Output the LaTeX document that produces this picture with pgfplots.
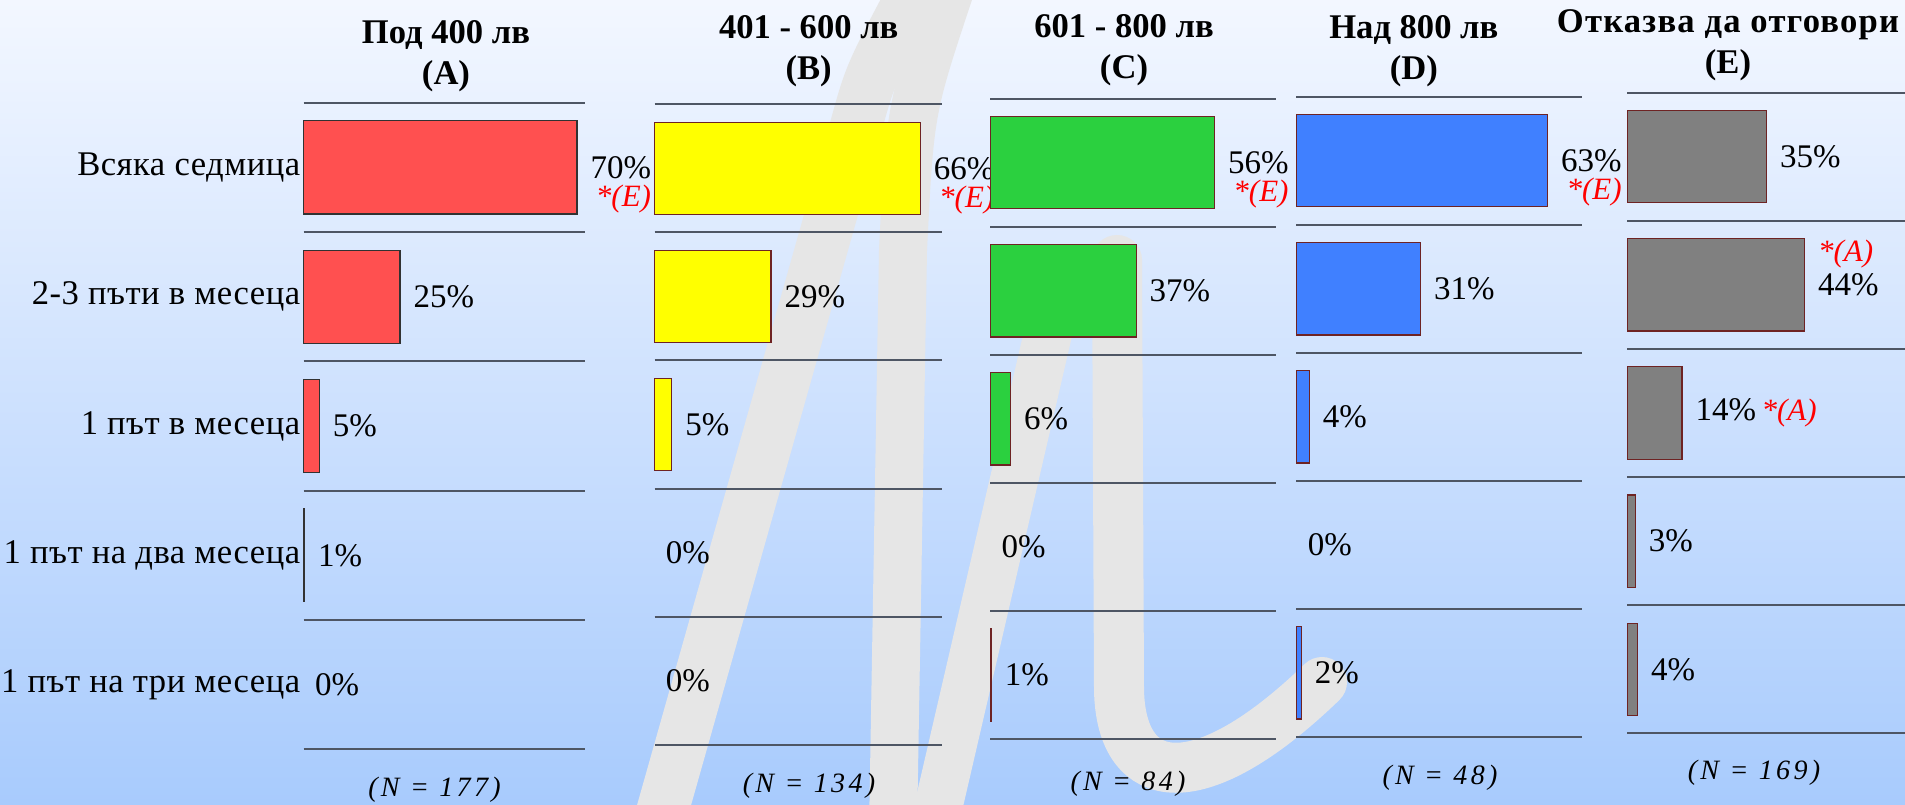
\documentclass[border=0pt]{standalone}
\usepackage{fontspec}
\setmainfont{Liberation Serif}
\usepackage{pgfplots}
\pgfplotsset{compat=1.18}

\definecolor{bgtop}{RGB}{243,247,255}
\definecolor{bgbot}{RGB}{168,203,253}
\definecolor{wm}{RGB}{230,230,230}
\definecolor{gridc}{RGB}{78,86,100}
\definecolor{edgec}{RGB}{110,35,35}
\definecolor{cA}{RGB}{255,80,80}
\definecolor{cB}{RGB}{255,255,0}
\definecolor{cC}{RGB}{43,208,63}
\definecolor{cD}{RGB}{64,128,255}
\definecolor{cE}{RGB}{128,128,128}

% red significance marks
\newcommand\sig[1]{{\color{red}\itshape\fontsize{15.5}{15.5}\selectfont *(#1)}}
\newcommand\sigbelow[1]{\llap{\smash{\raisebox{-14pt}{\sig{#1}}}}}
\newcommand\sigabove[1]{\rlap{\smash{\raisebox{17pt}{\sig{#1}}}}}

\pgfplotsset{
  panel/.style={
    scale only axis, anchor=south west,
    xmin=0, xmax=71.5, ymin=0.5, ymax=5.5, y dir=reverse,
    axis line style={draw=none},
    xtick=\empty, ytick={1,...,5}, yticklabel={\mbox{}},
    minor ytick={0.5,1.5,...,5.5}, yminorgrids,
    minor grid style={draw=gridc, line width=1pt},
    major tick length=0pt, minor tick length=0pt,
    clip=false, point meta=explicit symbolic,
  },
  bars/.style={
    xbar, bar width=0.72, bar shift=0pt, fill=#1, draw=edgec, line width=0.6pt,
    nodes near coords,
    every node near coord/.style={anchor=west, inner sep=0pt, xshift=6.5pt,
      font=\fontsize{16.5}{19}\selectfont, text=black},
  },
  zero/.style={
    xbar, bar width=0.72, bar shift=0pt, draw=none, fill=none,
    nodes near coords,
    every node near coord/.style={anchor=west, inner sep=0pt, xshift=5.5pt,
      font=\fontsize{16.5}{19}\selectfont, text=black},
  },
}

\begin{document}
\begin{tikzpicture}[x=1pt,y=1pt]
\clip (0,0) rectangle (952.5,402);
\shade[top color=bgtop, bottom color=bgbot] (0,0) rectangle (952.5,402);

% watermark
\draw[wm, line width=26pt] (328.5,-13) -- (427.5,337) .. controls (435,364.5) .. (457.5,407);
\draw[wm, line width=24pt] (475,407) .. controls (455,347) .. (451.5,277) -- (446.5,-13);
\draw[wm, line width=24pt] (532.5,272) -- (466.5,-13);
\draw[wm, line width=25pt, line cap=round] (558.5,272) -- (559.5,57)
  .. controls (560.5,7) and (600,2) .. (661,61);

% A
\begin{axis}[panel, at={(151.8pt,27.35pt)}, width=140.6pt, height=323.3pt,
  yticklabels={Всяка седмица, 2-3 пъти в месеца, 1 път в месеца,
    1 път на два месеца, 1 път на три месеца},
  yticklabel style={anchor=east, inner sep=0pt, xshift=-1.5pt,
    font=\fontsize{17.3}{19}\selectfont\addfontfeature{LetterSpace=1.5}}]
\addplot[bars=cA, draw={rgb,255:red,50;green,50;blue,50}] coordinates {
  (69.5,1) [70\%\sigbelow{E}] (24.5,2) [25\%] (4,3) [5\%] (0.25,4) [1\%]};
\addplot[zero] coordinates {(0,5) [0\%]};
\end{axis}

% B
\begin{axis}[panel, at={(327.25pt,29.65pt)}, width=143.5pt, height=320.2pt]
\addplot[bars=cB] coordinates {
  (66.2,1) [66\%\sigbelow{E}] (29,2) [29\%] (4.3,3) [5\%]};
\addplot[zero] coordinates {(0,4) [0\%] (0,5) [0\%]};
\end{axis}

% C
\begin{axis}[panel, at={(495.1pt,32.5pt)}, width=142.9pt, height=320.15pt]
\addplot[bars=cC] coordinates {
  (56.1,1) [56\%\sigbelow{E}] (36.5,2) [37\%] (5.1,3) [6\%] (0.25,5) [1\%]};
\addplot[zero] coordinates {(0,4) [0\%]};
\end{axis}

% D
\begin{axis}[panel, at={(648.2pt,33.5pt)}, width=143pt, height=320.15pt]
\addplot[bars=cD] coordinates {
  (62.8,1) [63\%\sigbelow{E}] (31,2) [31\%] (3.2,3) [4\%] (1.2,5) [2\%]};
\addplot[zero] coordinates {(0,4) [0\%]};
\end{axis}

% E
\begin{axis}[panel, at={(813.6pt,35.35pt)}, width=143pt, height=320.3pt]
\addplot[bars=cE] coordinates {
  (34.8,1) [35\%] (44.3,2) [\sigabove{A}44\%] (13.7,3) [14\%\,\sig{A}]
  (2,4) [3\%] (2.6,5) [4\%]};
\end{axis}

% panel headings
\begin{scope}[every node/.style={align=center, font=\bfseries\fontsize{17.3}{20.5}\selectfont}]
\node at (223,373.9) {Под 400 лв\\(A)};
\node at (404.35,376.35) {401 - 600 лв\\(B)};
\node at (562,377) {601 - 800 лв\\(C)};
\node at (706.9,376.6) {Над 800 лв\\(D)};
\node at (864,379.5) {{\addfontfeature{LetterSpace=3.5}Отказва да отговори}\\(E)};
\end{scope}

% sample sizes
\begin{scope}[every node/.style={font=\itshape\fontsize{14}{14}\selectfont\addfontfeature{LetterSpace=12}}]
\node at (217.25,7) {(N = 177)};
\node at (404.5,9) {(N = 134)};
\node at (564,10) {(N = 84)};
\node at (720,13) {(N = 48)};
\node at (877,15.5) {(N = 169)};
\end{scope}
\end{tikzpicture}
\end{document}
